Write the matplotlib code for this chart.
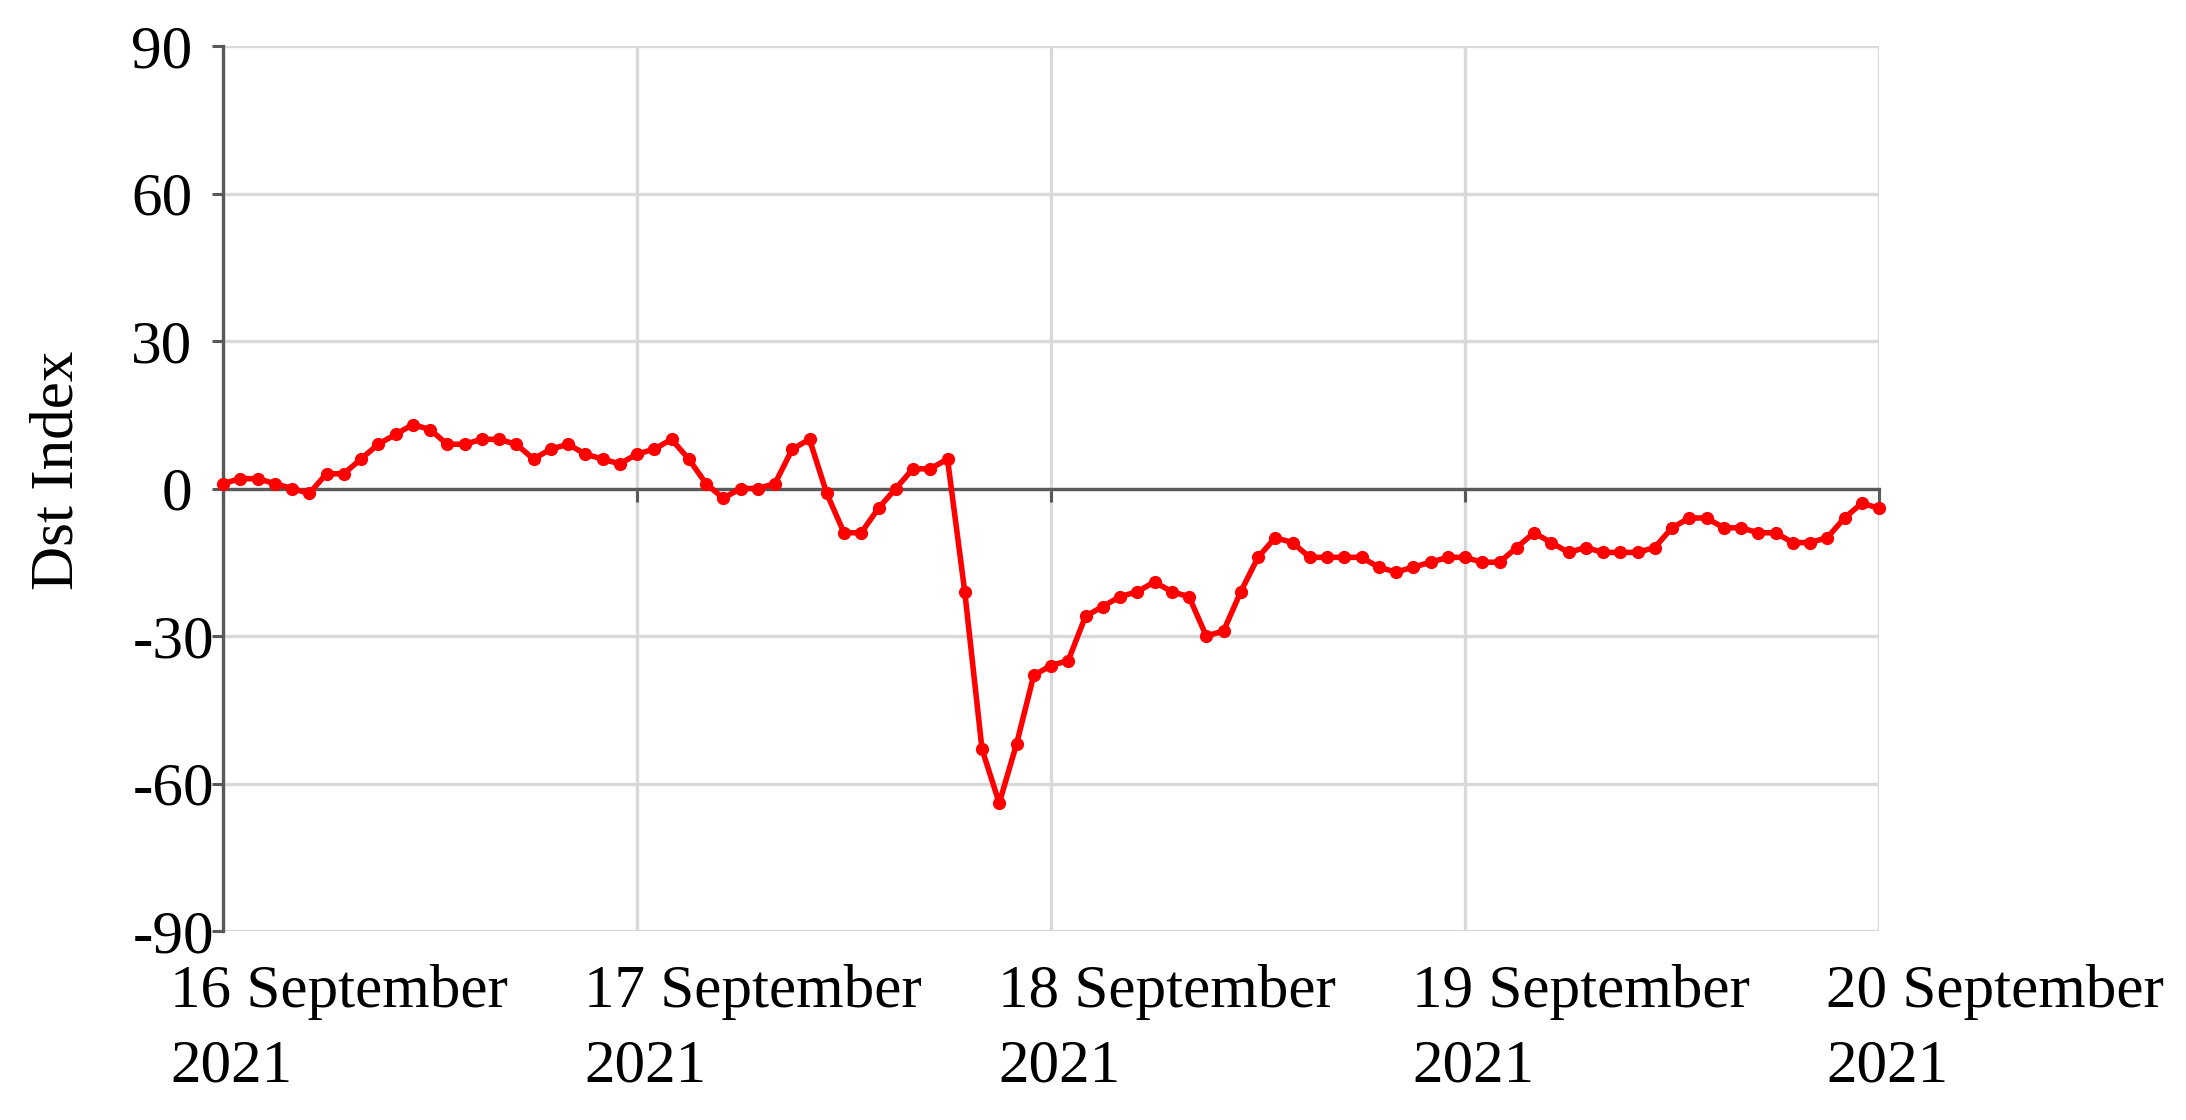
import numpy as np
import matplotlib
matplotlib.use('Agg')
import matplotlib.pyplot as plt
import matplotlib.transforms as mtransforms

# hourly Dst values, 16 Sep 00 UT .. 20 Sep 00 UT
dst_day1 = [1, 2, 2, 1, 0, -1, 3, 3, 6, 9, 11, 13, 12, 9, 9, 10, 10, 9, 6, 8, 9, 7, 6, 5]
dst_day2 = [7, 8, 10, 6, 1, -2, 0, 0, 1, 8, 10, -1, -9, -9, -4, 0, 4, 4, 6, -21, -53, -64, -52, -38]
dst_day3 = [-36, -35, -26, -24, -22, -21, -19, -21, -22, -30, -29, -21, -14, -10, -11, -14, -14, -14, -14, -16, -17, -16, -15, -14]
dst_day4 = [-14, -15, -15, -12, -9, -11, -13, -12, -13, -13, -13, -12, -8, -6, -6, -8, -8, -9, -9, -11, -11, -10, -6, -3]
dst_end = [-4]

dst = dst_day1 + dst_day2 + dst_day3 + dst_day4 + dst_end
hours = np.arange(len(dst))

day_ticks = [0, 24, 48, 72, 96]
day_labels = ['16 September\n2021', '17 September\n2021', '18 September\n2021',
              '19 September\n2021', '20 September\n2021']
y_ticks = [90, 60, 30, 0, -30, -60, -90]

plt.rcParams['font.family'] = ['Liberation Serif', 'DejaVu Serif']

fig = plt.figure(figsize=(21.86, 11.2), dpi=100)
ax = fig.add_axes([223/2186, 1 - 931/1120, (1879-223)/2186, (931-46)/1120])

grid_col = '#d9d9d9'
axis_col = '#595959'

ax.plot(hours, dst, '-o', color='#ff0000', lw=4.0, ms=8.5, zorder=3, clip_on=False)

ax.set_xlim(0, 96)
ax.set_ylim(-90, 90)
ax.set_yticks(y_ticks)
ax.set_yticklabels([str(v) for v in y_ticks])
ax.set_xticks(day_ticks)

ax.grid(True, color=grid_col, lw=2.4, zorder=0)
for s in ['top', 'right']:
    ax.spines[s].set_visible(False)
ax.spines['left'].set_color(axis_col)
ax.spines['left'].set_linewidth(2.4)
ax.spines['bottom'].set_position(('data', 0))
ax.spines['bottom'].set_color(axis_col)
ax.spines['bottom'].set_linewidth(2.4)
ax.spines['bottom'].set_zorder(2)

ax.tick_params(axis='y', direction='out', length=8, width=2.2, color=axis_col,
               labelsize=44, pad=14)
ax.tick_params(axis='x', direction='out', length=9, width=2.2, color=axis_col,
               labelbottom=False)

# negative labels sit closer to the axis in the original
neg_shift = mtransforms.ScaledTranslation(22/100, 0, fig.dpi_scale_trans)
for v, lab in zip(y_ticks, ax.get_yticklabels()):
    if v < 0:
        lab.set_transform(lab.get_transform() + neg_shift)

ax.set_ylabel('Dst Index', fontsize=44)
ax.yaxis.set_label_coords(-0.083, 0.52)

# date labels at the bottom of the plot area
sec = ax.secondary_xaxis('bottom')
sec.set_xticks(day_ticks)
sec.set_xticklabels(day_labels, fontsize=44, linespacing=1.45, ha='left')
sec.tick_params(length=0, pad=24)
sec.spines['bottom'].set_visible(False)
shift = mtransforms.ScaledTranslation(-53/100, 0, fig.dpi_scale_trans)
for lab in sec.get_xticklabels():
    lab.set_transform(lab.get_transform() + shift)

fig.savefig('out.png', dpi=100, facecolor='white')
